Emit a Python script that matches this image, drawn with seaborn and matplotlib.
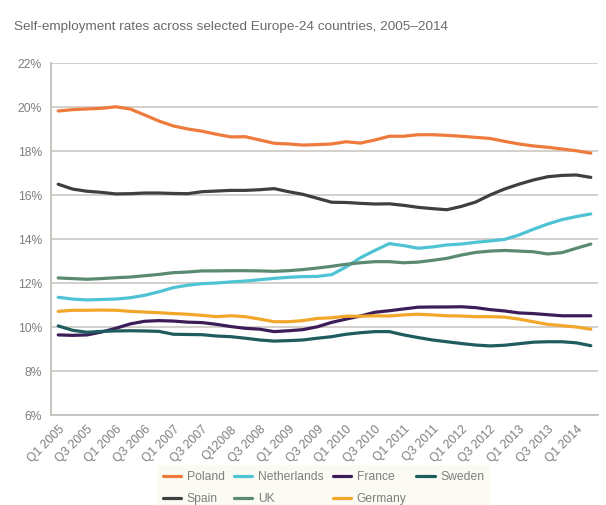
import matplotlib
matplotlib.use("Agg")
import matplotlib.pyplot as plt
import numpy as np
import pandas as pd
import seaborn as sns

# Quarterly self-employment rates (%), Q1 2005 – Q2 2014
poland = [19.82, 19.88, 19.91, 19.94, 20.01, 19.91, 19.64, 19.36, 19.14, 19.00,
          18.90, 18.76, 18.64, 18.65, 18.50, 18.35, 18.32, 18.27, 18.29, 18.32,
          18.42, 18.36, 18.50, 18.67, 18.67, 18.74, 18.74, 18.71, 18.67, 18.62,
          18.57, 18.44, 18.32, 18.23, 18.17, 18.09, 18.01, 17.90]
spain = [16.49, 16.27, 16.17, 16.12, 16.05, 16.06, 16.09, 16.09, 16.07, 16.06,
         16.15, 16.18, 16.21, 16.21, 16.24, 16.29, 16.15, 16.03, 15.85, 15.67,
         15.66, 15.62, 15.59, 15.60, 15.53, 15.44, 15.38, 15.33, 15.48, 15.68,
         16.00, 16.27, 16.49, 16.68, 16.83, 16.89, 16.91, 16.80]
netherlands = [11.35, 11.27, 11.23, 11.25, 11.27, 11.33, 11.44, 11.60, 11.79, 11.90,
               11.97, 12.00, 12.05, 12.09, 12.15, 12.21, 12.26, 12.29, 12.30, 12.38,
               12.73, 13.15, 13.48, 13.79, 13.70, 13.58, 13.64, 13.73, 13.77, 13.85,
               13.91, 13.98, 14.18, 14.44, 14.68, 14.88, 15.02, 15.14]
uk = [12.23, 12.20, 12.17, 12.20, 12.24, 12.27, 12.33, 12.39, 12.47, 12.50,
      12.55, 12.55, 12.56, 12.56, 12.55, 12.53, 12.56, 12.61, 12.68, 12.76,
      12.85, 12.92, 12.97, 12.97, 12.92, 12.95, 13.03, 13.12, 13.27, 13.39,
      13.45, 13.48, 13.45, 13.42, 13.32, 13.38, 13.58, 13.77]
france = [9.64, 9.62, 9.64, 9.77, 9.94, 10.14, 10.26, 10.29, 10.27, 10.22,
          10.20, 10.12, 10.02, 9.94, 9.90, 9.79, 9.83, 9.88, 10.01, 10.21,
          10.36, 10.50, 10.67, 10.74, 10.82, 10.90, 10.91, 10.91, 10.92, 10.88,
          10.79, 10.73, 10.64, 10.61, 10.56, 10.51, 10.51, 10.51]
germany = [10.71, 10.76, 10.76, 10.77, 10.76, 10.71, 10.68, 10.65, 10.61, 10.58,
           10.53, 10.47, 10.51, 10.47, 10.36, 10.24, 10.24, 10.29, 10.39, 10.42,
           10.49, 10.49, 10.51, 10.50, 10.55, 10.58, 10.55, 10.51, 10.50, 10.47,
           10.47, 10.45, 10.36, 10.24, 10.12, 10.06, 10.00, 9.90]
sweden = [10.05, 9.85, 9.76, 9.80, 9.82, 9.83, 9.82, 9.80, 9.67, 9.66,
          9.65, 9.59, 9.56, 9.49, 9.41, 9.36, 9.38, 9.41, 9.49, 9.56,
          9.67, 9.74, 9.79, 9.79, 9.64, 9.52, 9.41, 9.33, 9.25, 9.18,
          9.14, 9.17, 9.24, 9.31, 9.33, 9.33, 9.28, 9.15]

countries = ["Poland", "Spain", "Netherlands", "UK", "France", "Germany", "Sweden"]
series = [poland, spain, netherlands, uk, france, germany, sweden]
colors = ["#ee7a3c", "#3f3f3f", "#4ec3d4", "#5a8a72", "#3d1d58", "#f2a72b", "#1f5c5e"]

tick_labels = ["Q1 2005", "Q3 2005", "Q1 2006", "Q3 2006", "Q1 2007", "Q3 2007",
               "Q12008", "Q3 2008", "Q1 2009", "Q3 2009", "Q1 2010", "Q3 2010",
               "Q1 2011", "Q3 2011", "Q1 2012", "Q3 2012", "Q1 2013", "Q3 2013",
               "Q1 2014"]

n_quarters = len(poland)
df = pd.DataFrame({
    "quarter": np.tile(np.arange(n_quarters), len(countries)),
    "rate": np.concatenate(series),
    "country": np.repeat(countries, n_quarters),
})

sns.set_theme(style="white")
plt.rcParams["font.family"] = ["Liberation Sans", "DejaVu Sans"]

fig = plt.figure(figsize=(6.06, 5.05), dpi=100)
ax = fig.add_axes([51 / 606, 1 - 415 / 505, 547 / 606, 352 / 505])

sns.lineplot(data=df, x="quarter", y="rate", hue="country", hue_order=countries,
             palette=colors, linewidth=2.3, ax=ax, legend=True)

grid_c = "#d0cdc8"
label_c = "#7f7f7f"

ax.set_xlim(-0.5, n_quarters - 0.5)
ax.set_ylim(6, 22)
ax.set_yticks(np.arange(6, 23, 2))
ax.set_yticklabels([f"{v}%" for v in range(6, 23, 2)])
ax.yaxis.grid(True, color=grid_c, linewidth=1.3)
ax.set_axisbelow(True)
ax.set_xlabel("")
ax.set_ylabel("")

for side in ["top", "right"]:
    ax.spines[side].set_visible(False)
for side in ["left", "bottom"]:
    ax.spines[side].set_color("#c4c1bc")
    ax.spines[side].set_linewidth(1.3)

ax.tick_params(axis="y", length=0, pad=6.5, labelsize=8.7, labelcolor=label_c)

# Category labels on every second quarter; tick marks on quarter boundaries
ax.set_xticks(np.arange(0, n_quarters, 2))
ax.set_xticklabels(tick_labels)
ax.set_xticks(np.arange(0.5, n_quarters, 1.0), minor=True)
ax.tick_params(axis="x", which="major", length=0, pad=6, labelsize=8.7,
               labelcolor=label_c)
ax.tick_params(axis="x", which="minor", direction="in", length=5.5, width=1.2,
               color="#c4c1bc")
for lbl in ax.get_xticklabels():
    lbl.set_rotation(45)
    lbl.set_ha("right")
    lbl.set_va("top")
    lbl.set_rotation_mode("anchor")

handles, labels = ax.get_legend_handles_labels()
ax.get_legend().remove()
leg = fig.legend(handles, labels, ncol=4, loc="upper left",
                 bbox_to_anchor=(151 / 606, 1 - 459 / 505),
                 frameon=True, facecolor="#fafaf1", edgecolor="none",
                 fontsize=8.7, handlelength=1.5, handletextpad=0.45,
                 columnspacing=0.8, labelspacing=0.8, borderpad=0.5,
                 fancybox=False)
for t in leg.get_texts():
    t.set_color(label_c)

fig.text(14 / 606, 1 - 27 / 505,
         "Self-employment rates across selected Europe-24 countries, 2005\u20132014",
         fontsize=9.7, color="#6a6a6a", ha="left", va="center")

fig.savefig("out.png", dpi=100, facecolor="white")
